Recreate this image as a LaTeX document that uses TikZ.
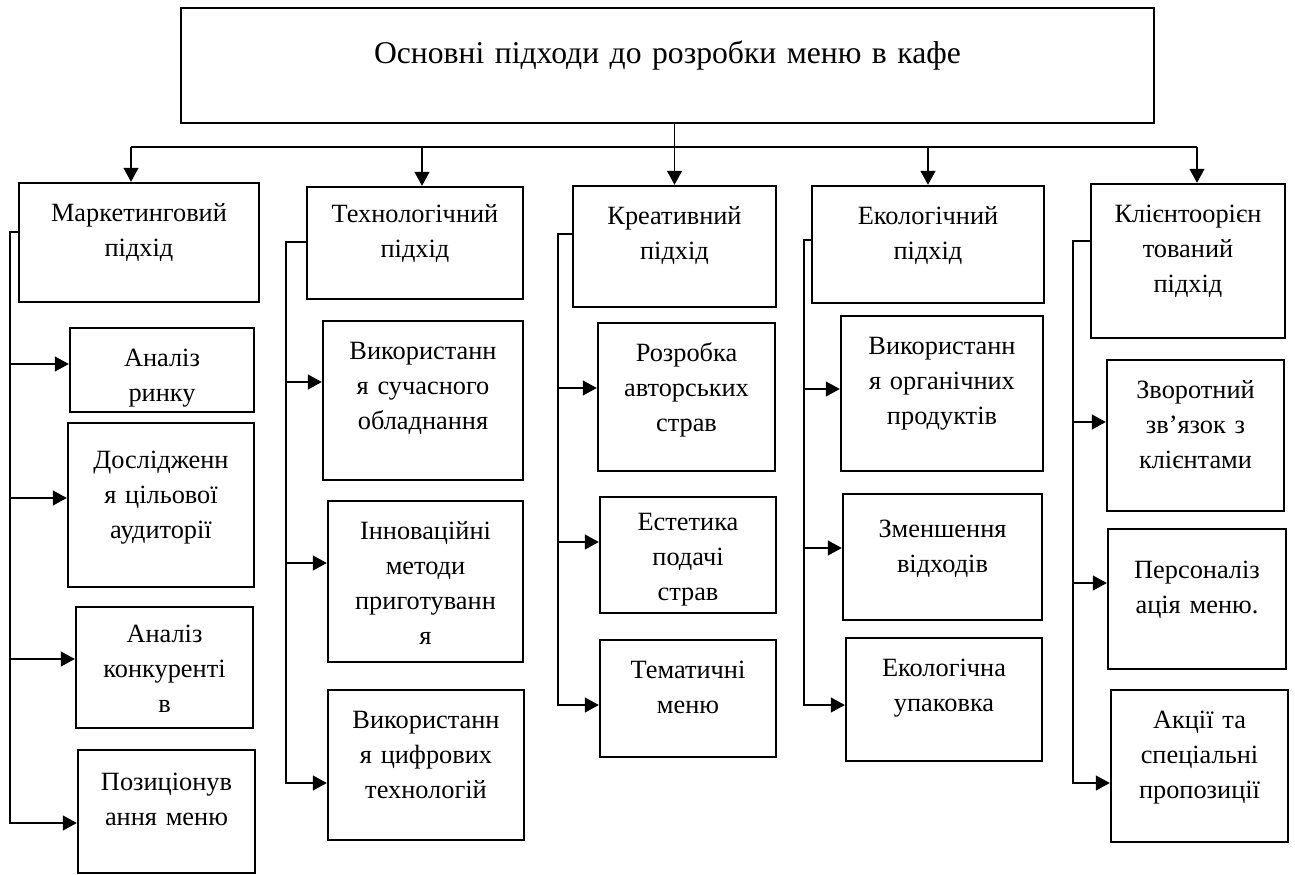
\documentclass[tikz,border=0pt]{standalone}
\usepackage{fontspec}
\setmainfont{Liberation Serif}
\usetikzlibrary{arrows.meta}

\begin{document}
\begin{tikzpicture}[x=0.02cm, y=-0.02cm,
    box/.style={draw, line width=1.4pt, inner sep=0pt, align=center,
        font=\fontsize{15}{20}\selectfont, text height=0.76cm},
    line/.style={line width=0.75pt},
    arr/.style={line width=0.75pt, -{Triangle[length=0.28cm,width=0.3cm]}}]
    \useasboundingbox (0,0) rectangle (1295,875);

    % main box
    \node[box, text width=19.46cm, text height=1.12cm, text depth=1.18cm,
        font=\fontsize{18}{22}\selectfont] (top) at (667.5,65.5)
        {Основні підходи до розробки меню в кафе};

    % approaches
    \node[box, text width=4.8cm, text depth=1.62cm] (m0) at (139,242.5) {Маркетинговий\\підхід};
    \node[box, text width=4.32cm, text height=0.7cm, text depth=1.54cm] (t0) at (415,243) {Технологічний\\підхід};
    \node[box, text width=4.06cm, text depth=1.66cm] (k0) at (674.5,246.5) {Креативний\\підхід};
    \node[box, text width=4.64cm, text depth=1.58cm] (e0) at (928,244.5) {Екологічний\\підхід};
    \node[box, text width=3.88cm, text depth=2.32cm] (c0) at (1188,261) {Клієнтоорієн\\тований\\підхід};

    % marketing
    \node[box, text width=3.68cm, text depth=0.92cm] (m1) at (162,370) {Аналіз\\ринку};
    \node[box, text width=3.72cm, text height=0.9cm, text depth=2.38cm] (m2) at (161,505) {Дослідженн\\я цільової\\аудиторії};
    \node[box, text width=3.54cm, text height=0.7cm, text depth=1.72cm] (m3) at (164.5,667.5) {Аналіз\\конкуренті\\в};
    \node[box, text width=3.54cm, text height=0.8cm, text depth=1.66cm] (m4) at (166.5,811.5) {Позиціонув\\ання меню};

    % technology
    \node[box, text width=4cm, text depth=2.42cm] (t1) at (423,400.5) {Використанн\\я сучасного\\обладнання};
    \node[box, text width=3.9cm, text depth=2.46cm] (t2) at (425.5,581.5) {Інноваційні\\методи\\приготуванн\\я};
    \node[box, text width=3.92cm, text depth=2.24cm] (t3) at (426,765) {Використанн\\я цифрових\\технологій};

    % creative
    \node[box, text width=3.54cm, text depth=2.2cm] (k1) at (686.5,397) {Розробка\\авторських\\страв};
    \node[box, text width=3.52cm, text height=0.66cm, text depth=1.66cm] (k2) at (688,555) {Естетика\\подачі\\страв};
    \node[box, text width=3.52cm, text depth=1.58cm] (k3) at (688,698.5) {Тематичні\\меню};

    % ecology
    \node[box, text width=4.04cm, text depth=2.34cm] (e1) at (942,393.5) {Використанн\\я органічних\\продуктів};
    \node[box, text width=3.98cm, text height=0.86cm, text depth=1.66cm] (e2) at (942.5,557) {Зменшення\\відходів};
    \node[box, text width=3.92cm, text depth=1.7cm] (e3) at (944,699.5) {Екологічна\\упаковка};

    % client
    \node[box, text width=3.54cm, text depth=2.26cm] (c1) at (1195.5,435.5) {Зворотний\\зв’язок з\\клієнтами};
    \node[box, text width=3.56cm, text height=0.98cm, text depth=1.82cm] (c2) at (1197,599) {Персоналіз\\ація меню.};
    \node[box, text width=3.54cm, text depth=2.28cm] (c3) at (1199.5,766) {Акції та\\спеціальні\\пропозиції};

    % bus under the main box
    \coordinate (bm) at (131,147);
    \coordinate (bt) at (422,147);
    \coordinate (be) at (928,147);
    \coordinate (bc) at (1197,147);
    \draw[line] (bm) -- (bc);
    \draw[arr] (bm) -- (bm |- m0.north);
    \draw[arr] (bt) -- (bt |- t0.north);
    \draw[arr] (k0.north |- top.south) -- (k0.north);
    \draw[arr] (be) -- (be |- e0.north);
    \draw[arr] (bc) -- (bc |- c0.north);

    % marketing branch
    \coordinate (mt) at (10,232);
    \coordinate (m1a) at (10,364);
    \coordinate (m2a) at (10,498);
    \coordinate (m3a) at (10,659);
    \coordinate (m4a) at (10,823);
    \draw[arr] (mt -| m0.west) -- (mt) -- (m4a) -- (m4a -| m4.west);
    \draw[arr] (m1a) -- (m1a -| m1.west);
    \draw[arr] (m2a) -- (m2a -| m2.west);
    \draw[arr] (m3a) -- (m3a -| m3.west);

    % technology branch
    \coordinate (tt) at (286,242);
    \coordinate (t1a) at (286,382);
    \coordinate (t2a) at (286,563);
    \coordinate (t3a) at (286,783);
    \draw[arr] (tt -| t0.west) -- (tt) -- (t3a) -- (t3a -| t3.west);
    \draw[arr] (t1a) -- (t1a -| t1.west);
    \draw[arr] (t2a) -- (t2a -| t2.west);

    % creative branch
    \coordinate (kt) at (558,234);
    \coordinate (k1a) at (558,388);
    \coordinate (k2a) at (558,542);
    \coordinate (k3a) at (558,705);
    \draw[arr] (kt -| k0.west) -- (kt) -- (k3a) -- (k3a -| k3.west);
    \draw[arr] (k1a) -- (k1a -| k1.west);
    \draw[arr] (k2a) -- (k2a -| k2.west);

    % ecology branch
    \coordinate (et) at (804,240);
    \coordinate (e1a) at (804,389);
    \coordinate (e2a) at (804,548);
    \coordinate (e3a) at (804,705);
    \draw[arr] (et -| e0.west) -- (et) -- (e3a) -- (e3a -| e3.west);
    \draw[arr] (e1a) -- (e1a -| e1.west);
    \draw[arr] (e2a) -- (e2a -| e2.west);

    % client branch
    \coordinate (ct) at (1073,241);
    \coordinate (c1a) at (1073,422);
    \coordinate (c2a) at (1073,583);
    \coordinate (c3a) at (1073,783);
    \draw[arr] (ct -| c0.west) -- (ct) -- (c3a) -- (c3a -| c3.west);
    \draw[arr] (c1a) -- (c1a -| c1.west);
    \draw[arr] (c2a) -- (c2a -| c2.west);
\end{tikzpicture}
\end{document}
